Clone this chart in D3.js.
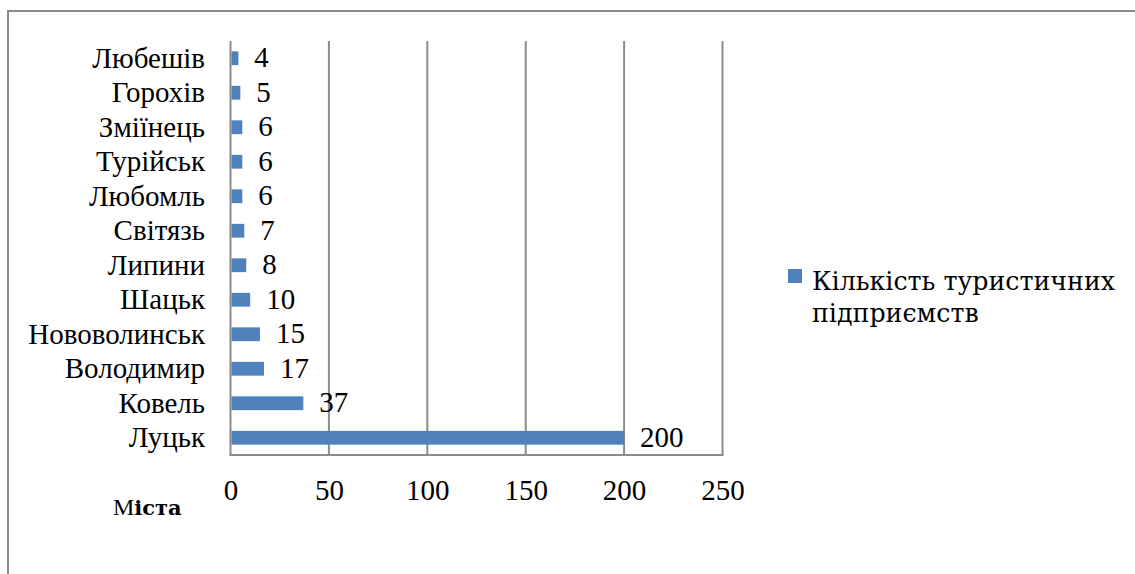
<!DOCTYPE html>
<html>
<head>
<meta charset="utf-8">
<script src="https://cdn.jsdelivr.net/npm/d3@7"></script>
<style>
  html, body { margin: 0; padding: 0; background: #fff; }
  svg { display: block; }
  .tnr { font-family: "Liberation Serif", "Times New Roman", Tinos, serif; }
  .cam { font-family: "DejaVu Serif", serif; }
</style>
</head>
<body>
<svg id="chart" width="1135" height="574"></svg>
<script>
// Cities, listed top to bottom
const cities = ["Любешів", "Горохів", "Зміїнець", "Турійськ", "Любомль", "Світязь",
                "Липини", "Шацьк", "Нововолинськ", "Володимир", "Ковель", "Луцьк"];
// Number of tourism enterprises per city
const enterprises = [4, 5, 6, 6, 6, 7, 8, 10, 15, 17, 37, 200];
// Value axis ticks
const xTicks = [0, 50, 100, 150, 200, 250];
const seriesName = ["Кількість туристичних", "підприємств"];
const axisTitle = "Міста";

const data = cities.map((c, i) => ({ city: c, value: enterprises[i] }));

const svg = d3.select("#chart");
const barColor = "#4f81bd";
const gridColor = "#8c8c8c";
const labelSize = 29;

// Outer chart frame
svg.append("rect")
  .attr("x", 8).attr("y", 11)
  .attr("width", 1140).attr("height", 580)
  .attr("fill", "none")
  .attr("stroke", gridColor)
  .attr("stroke-width", 2);

const x = d3.scaleLinear().domain([0, 250]).range([230.5, 722.5]);
const y = d3.scaleBand().domain(cities).range([41, 455]).paddingInner(0.6).paddingOuter(0.3);

// Vertical gridlines
svg.append("g")
  .selectAll("line")
  .data(xTicks)
  .join("line")
  .attr("x1", d => x(d)).attr("x2", d => x(d))
  .attr("y1", 41).attr("y2", 455)
  .attr("stroke", gridColor)
  .attr("stroke-width", 2);

// Bottom edge of the plot
svg.append("line")
  .attr("x1", x(0) - 1).attr("x2", x(250) + 1)
  .attr("y1", 455).attr("y2", 455)
  .attr("stroke", gridColor)
  .attr("stroke-width", 2);

// Bars
svg.append("g")
  .selectAll("rect")
  .data(data)
  .join("rect")
  .attr("x", x(0) + 1)
  .attr("y", d => y(d.city))
  .attr("width", d => x(d.value) - x(0) - 1)
  .attr("height", y.bandwidth())
  .attr("fill", barColor);

// Value labels
svg.append("g")
  .selectAll("text")
  .data(data)
  .join("text")
  .attr("class", "tnr")
  .attr("x", d => x(d.value) + 16)
  .attr("y", d => y(d.city) + y.bandwidth() / 2 + 9)
  .attr("font-size", labelSize)
  .attr("fill", "#000")
  .text(d => d.value);

// Category axis labels
const yAxis = d3.axisLeft(y).tickSize(0).tickPadding(0);
const gy = svg.append("g").attr("transform", "translate(205,0)").call(yAxis)
  .attr("font-family", null);
gy.select(".domain").remove();
gy.selectAll("text")
  .attr("class", "tnr")
  .attr("font-size", labelSize)
  .attr("fill", "#000")
  .attr("dy", "0.32em");

// Value axis labels
const xAxis = d3.axisBottom(x).tickValues(xTicks).tickSize(0).tickPadding(0);
const gx = svg.append("g").attr("transform", "translate(0,480)").call(xAxis)
  .attr("font-family", null);
gx.select(".domain").remove();
gx.selectAll("text")
  .attr("class", "tnr")
  .attr("font-size", labelSize)
  .attr("fill", "#000")
  .attr("dy", "0.7em");

// Axis title
const title = svg.append("text")
  .attr("x", 113).attr("y", 515)
  .attr("font-size", 24)
  .attr("fill", "#000");
title.append("tspan")
  .attr("class", "tnr")
  .text(axisTitle.slice(0, 1));
title.append("tspan")
  .attr("class", "cam")
  .attr("font-weight", "bold")
  .attr("font-size", 21)
  .text(axisTitle.slice(1));

// Legend
const legend = svg.append("g");
legend.append("rect")
  .attr("x", 788).attr("y", 269)
  .attr("width", 14).attr("height", 14)
  .attr("fill", barColor);
legend.selectAll("text")
  .data(seriesName)
  .join("text")
  .attr("class", "cam")
  .attr("x", 812)
  .attr("y", (d, i) => 290 + i * 32)
  .attr("font-size", 25.3)
  .attr("fill", "#000")
  .text(d => d);
</script>
</body>
</html>
